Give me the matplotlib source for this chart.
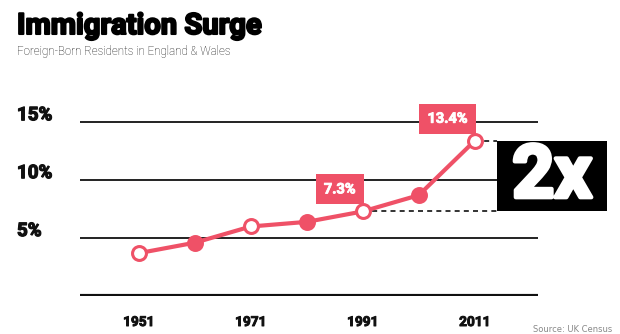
import matplotlib
matplotlib.use('Agg')
import matplotlib.pyplot as plt
import matplotlib.patheffects as pe
from matplotlib.patches import Rectangle

RED = '#EF5167'
INK = '#111111'

years = [1951, 1961, 1971, 1981, 1991, 2001, 2011]
share = [3.7, 4.6, 6.0, 6.4, 7.3, 8.7, 13.4]
hollow = [True, False, True, False, True, False, True]
yticks = [5, 10, 15]
ytick_labels = ['5%', '10%', '15%']
xticks = [1951, 1971, 1991, 2011]
callouts = [(1991, 7.3), (2011, 13.4)]


def heavy(color, w=0.9):
    # fake a black weight by stroking the bold glyphs
    return [pe.withStroke(linewidth=w, foreground=color)]


fig = plt.figure(figsize=(6.2, 3.34), dpi=100)
W, H = 620, 334

# plot area in pixel terms: x 80..538, zero line at y=296
ax = fig.add_axes([80 / W, (H - 296) / H, 458 / W, 196 / H])
ax.set_xlim(1940.5, 2022.3)
ax.set_ylim(0, 16.92)
ax.axis('off')

for v in yticks:
    ax.axhline(v, color=INK, lw=1.3, zorder=1)
ax.axhline(0, color=INK, lw=3, zorder=1)

# y labels sit above their gridlines, at the left edge of the figure
for v, lab in zip(yticks, ytick_labels):
    ax.annotate(lab, xy=(0, v), xycoords=('figure fraction', 'data'),
                xytext=(17, 7), textcoords='offset pixels',
                ha='left', va='center', fontsize=13.5, fontweight='bold',
                family='Roboto', color=INK, annotation_clip=False,
                path_effects=heavy(INK))

for yr in xticks:
    ax.annotate(str(yr), xy=(yr, 0), xytext=(0, -26), textcoords='offset pixels',
                ha='center', va='center', fontsize=9.8, fontweight='bold',
                family='Roboto', color=INK, annotation_clip=False,
                path_effects=heavy(INK, 0.7))

# the "2x" block spans the 1991 -> 2011 range
ax.add_patch(Rectangle((2015.0, callouts[0][1]), 19.6, callouts[1][1] - callouts[0][1],
                       facecolor='black', edgecolor='none', clip_on=False, zorder=2))
ax.text(2015.0 + 9.8, (callouts[0][1] + callouts[1][1]) / 2 - 0.1, '2x', color='white',
        ha='center', va='center', fontsize=53, fontweight='bold', family='Roboto',
        clip_on=False, zorder=3, path_effects=heavy('white', 3))
for yr, v in callouts:
    ax.plot([yr, 2015.0], [v, v], color=INK, lw=1.2, ls=(0, (3, 2.5)), zorder=1,
            clip_on=False)

ax.plot(years, share, color=RED, lw=3, zorder=3, clip_on=False)
for yr, v, h in zip(years, share, hollow):
    ax.plot(yr, v, 'o', ms=10, mew=2.2, mec=RED, mfc='white' if h else RED,
            zorder=4, clip_on=False)

for yr, v in callouts:
    ax.annotate(f'{v}%', xy=(yr, v), xytext=(-7, 15), textcoords='offset pixels',
                ha='right', va='bottom', fontsize=10.5, fontweight='bold',
                family='Roboto', color='white', zorder=5,
                path_effects=heavy('white', 0.6),
                bbox=dict(boxstyle='square,pad=0.55', fc=RED, ec='none'))

fig.text(17 / W, 1 - 26 / H, 'Immigration Surge', ha='left', va='center',
         fontsize=21, fontweight='bold', family='Roboto', color='black',
         path_effects=heavy('black', 1.5))
fig.text(17 / W, 1 - 51 / H, 'Foreign-Born Residents in England & Wales', ha='left',
         va='center', fontsize=8.3, fontweight='light', family='Roboto', color='#111111')
fig.text(533 / W, 1 - 330 / H, 'Source: UK Census', ha='left', va='center',
         fontsize=6, color='#888888')

fig.savefig('out.png', dpi=100)
